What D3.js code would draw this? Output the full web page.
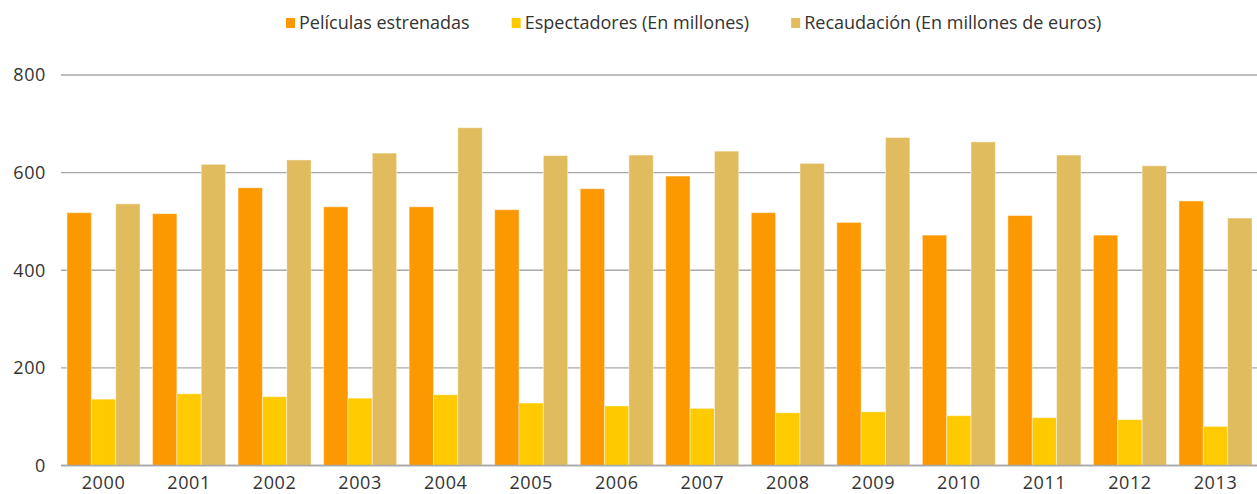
<!DOCTYPE html>
<html>
<head>
<meta charset="utf-8">
<script src="https://cdn.jsdelivr.net/npm/d3@7"></script>
<style>
  body { margin: 0; background: #fff; }
  text { font-family: "Open Sans", "Lato", sans-serif; fill: #333; }
</style>
</head>
<body>
<div id="chart"></div>
<script>
var years = ["2000","2001","2002","2003","2004","2005","2006","2007","2008","2009","2010","2011","2012","2013"];
var seriesNames = ["Películas estrenadas", "Espectadores (En millones)", "Recaudación (En millones de euros)"];
var peliculas    = [518, 516, 569, 530, 530, 524, 567, 593, 518, 498, 472, 512, 472, 542];
var espectadores = [136, 147, 141, 138, 145, 128, 122, 117, 108, 110, 102, 98, 94, 80];
var recaudacion  = [536, 617, 626, 640, 692, 635, 636, 644, 619, 672, 663, 636, 614, 507];
var yTicks = [0, 200, 400, 600, 800];
var colors = ["#fc9800", "#ffcb00", "#e0bc5e"];

var width = 1257, height = 494;
var margin = {top: 75, right: 0, bottom: 28, left: 61};

var data = years.map(function(y, i) {
  return {year: y, values: [peliculas[i], espectadores[i], recaudacion[i]]};
});

var svg = d3.select("#chart").append("svg")
    .attr("width", width)
    .attr("height", height);

var x0 = d3.scaleBand()
  .domain(years)
  .range([margin.left, width + 1])
  .paddingInner(0.146)
  .paddingOuter(0.07);

var x1 = d3.scaleBand()
  .domain(d3.range(seriesNames.length))
  .range([0, x0.bandwidth()]);

var y = d3.scaleLinear()
  .domain([0, 800])
  .range([465.5, 75]);

// gridlines
svg.append("g")
  .selectAll("line")
  .data(yTicks)
  .enter().append("line")
    .attr("x1", margin.left)
    .attr("x2", width)
    .attr("y1", function(d) { return y(d); })
    .attr("y2", function(d) { return y(d); })
    .attr("stroke", "#a8a8a8")
    .attr("stroke-width", 1.3);

// bars
var groups = svg.append("g")
  .selectAll("g")
  .data(data)
  .enter().append("g")
    .attr("transform", function(d) { return "translate(" + x0(d.year) + ",0)"; });

groups.selectAll("rect")
  .data(function(d) { return d.values.map(function(v, i) { return {i: i, v: v}; }); })
  .enter().append("rect")
    .attr("x", function(d) { return x1(d.i); })
    .attr("width", x1.bandwidth())
    .attr("y", function(d) { return y(d.v); })
    .attr("height", function(d) { return y(0) - y(d.v); })
    .attr("fill", function(d) { return colors[d.i]; })
    .attr("stroke", "#fff")
    .attr("stroke-opacity", 0.45)
    .attr("stroke-width", 1);

// baseline
svg.append("line")
  .attr("x1", margin.left).attr("x2", width)
  .attr("y1", y(0)).attr("y2", y(0))
  .attr("stroke", "#a8a8a8").attr("stroke-width", 1.3);

// y axis labels
var yAxis = svg.append("g")
  .attr("transform", "translate(46,0)")
  .call(d3.axisLeft(y).tickValues(yTicks).tickSize(0).tickPadding(0));
yAxis.select(".domain").remove();
yAxis.selectAll("text")
  .style("font-size", "18px")
  .style("letter-spacing", "0.6px")
  .style("fill", "#333")
  .style("font-family", "'Open Sans', Lato, sans-serif");

// x axis labels
var xAxis = svg.append("g")
  .attr("transform", "translate(0," + y(0) + ")")
  .call(d3.axisBottom(x0).tickSize(0).tickPadding(11));
xAxis.select(".domain").remove();
xAxis.selectAll("text")
  .style("font-size", "18px")
  .style("letter-spacing", "0.6px")
  .style("fill", "#333")
  .style("font-family", "'Open Sans', Lato, sans-serif");

// legend
var legend = svg.append("g");
var lx = 286;
seriesNames.forEach(function(name, i) {
  legend.append("rect")
    .attr("x", lx).attr("y", 18)
    .attr("width", 9).attr("height", 10)
    .attr("fill", colors[i]);
  var t = legend.append("text")
    .attr("x", lx + 13).attr("y", 28.5)
    .style("font-size", "18px")
    .text(name);
  lx += 13 + t.node().getComputedTextLength() + 42;
});
</script>
</body>
</html>
